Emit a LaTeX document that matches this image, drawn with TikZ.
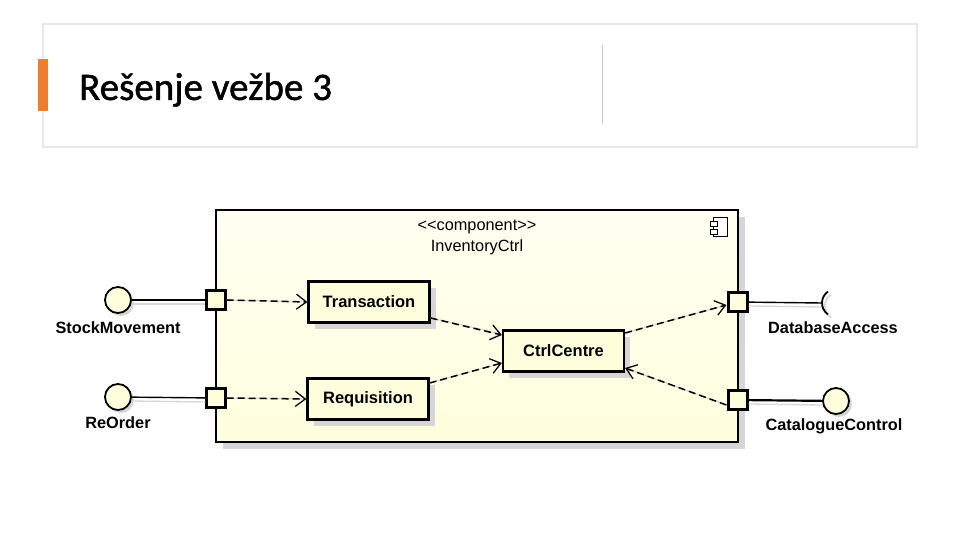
\documentclass[tikz,border=0pt]{standalone}
\usepackage{fontspec}
\setmainfont{Liberation Sans}
\newfontfamily\titlefont[FakeBold=1.2]{Carlito}
\usetikzlibrary{arrows.meta,shadows}
\definecolor{yfill}{RGB}{255,255,222}
\definecolor{yfilltop}{RGB}{255,255,242}
\definecolor{shadowgray}{RGB}{214,214,214}
\definecolor{lineshadow}{RGB}{215,215,215}
\definecolor{headgray}{RGB}{232,232,232}
\definecolor{sepgray}{RGB}{200,200,200}
\definecolor{accent}{RGB}{237,125,49}
\begin{document}
\begin{tikzpicture}[x=1pt,y=-1pt,
  boxshadow/.style={general shadow={fill=shadowgray, shadow xshift=6pt, shadow yshift=-6pt}},
  part/.style={draw=black, line width=2.3pt, fill=yfill, minimum width=121pt, minimum height=41pt,
               inner sep=0pt, font=\bfseries\fontsize{16.5}{19}\selectfont, boxshadow},
  port/.style={draw=black, line width=2.2pt, fill=yfill, minimum size=19pt, inner sep=0pt},
  lolli/.style={draw=black, line width=1.8pt, fill=yfill, circle, minimum size=26pt, inner sep=0pt,
                general shadow={fill=shadowgray, shadow xshift=3pt, shadow yshift=-3pt}},
  lbl/.style={font=\bfseries\fontsize{16.3}{19}\selectfont, inner sep=0pt},
  depend/.style={draw=black, line width=1.5pt, dash pattern=on 7pt off 4pt,
                 -{Straight Barb[length=10pt,width=15pt,line width=1.2pt]}},
  depshadow/.style={draw=lineshadow, line width=1.2pt, xshift=2pt, yshift=-5pt,
                 -{Straight Barb[length=10pt,width=15pt,line width=1.2pt]}},
  wire/.style={draw=black},
  wireshadow/.style={draw=lineshadow, line width=1.3pt}
]
\useasboundingbox (0,0) rectangle (960,540);
\fill[white] (0,0) rectangle (960,540);

% header
\draw[headgray, line width=1.2pt] (43,24) rectangle (917,147);
\fill[accent] (38,59) rectangle (48,111);
\draw[sepgray, line width=1pt] (602,45) -- (602,124);
\node[anchor=base west, inner sep=0pt, font=\titlefont\fontsize{39}{44}\selectfont] (title) at (79,100) {Rešenje vežbe 3};

% component
\node[draw=black, line width=2.4pt, minimum width=522pt, minimum height=232pt, inner sep=0pt,
      top color=yfilltop, bottom color=yfill, general shadow={fill=shadowgray, shadow xshift=7pt, shadow yshift=-7pt}]
      (ic) at (477,326) {};
\node[font=\fontsize{16.3}{19}\selectfont, inner sep=0pt] (stereo) at (477,227) {<\kern0pt<component>\kern0pt>};
\node[font=\fontsize{16.3}{19}\selectfont, inner sep=0pt] (icname) at (477,247) {InventoryCtrl};
\draw[line width=0.9pt, fill=white] (713,217) rectangle (727,236);
\draw[line width=0.9pt, fill=white] (710,221.5) rectangle (717,226.5);
\draw[line width=0.9pt, fill=white] (710,229) rectangle (717,234);

% parts
\node[part] (tr) at (369,302) {Transaction};
\node[part] (rq) at (368,399) {Requisition};
\node[part] (cc) at (563.5,351) {CtrlCentre};

% ports
\node[port] (pl1) at (216,300) {};
\node[port] (pl2) at (216,398) {};
\node[port] (pr1) at (738,302) {};
\node[port] (pr2) at (738,400) {};

% provided / required interfaces
\node[lolli] (sm) at (118,300) {};
\node[lolli] (ro) at (118,397) {};
\node[lolli] (cat) at (836,401) {};
\coordinate (db) at (836,303);
\node[lbl] (smL) at (118,327.5) {StockMovement};
\node[lbl] (roL) at (118,422.5) {ReOrder};
\node[lbl] (dbL) at (833,327.5) {DatabaseAccess};
\node[lbl] (catL) at (834,426.5) {CatalogueControl};

% wires
\draw[wireshadow] ([yshift=-4pt]sm.east) -- ([yshift=-4pt]pl1.west);
\draw[wireshadow] ([yshift=-4pt]ro.east) -- ([yshift=-4pt]pl2.west);
\draw[wireshadow] ([yshift=-4pt]pr1.east) -- ([yshift=-4pt,xshift=-14pt]db);
\draw[wireshadow] ([yshift=-4pt]pr2.east) -- ([yshift=-4pt]cat.west);
\draw[lineshadow, line width=1.8pt] ([xshift=3pt,yshift=-3pt]db) ++(125:14) arc[start angle=125, end angle=235, radius=14];
\draw[wire, line width=2.2pt] (sm) -- (pl1);
\draw[wire, line width=1.4pt] (ro) -- (pl2);
\draw[wire, line width=1.4pt] (pr1) -- ([xshift=-14pt]db);
\draw[wire, line width=2.2pt] (pr2) -- (cat);
\draw[black, line width=1.8pt] (db) ++(125:14) arc[start angle=125, end angle=235, radius=14];

% dependencies
\draw[depshadow] (pl1.east) -- (tr.west);
\draw[depshadow] (pl2.east) -- (rq.west);
\draw[depshadow] ([yshift=-16pt]tr.east) -- ([yshift=17pt]cc.west);
\draw[depshadow] ([yshift=16pt]rq.east) -- ([yshift=-12pt]cc.west);
\draw[depshadow] ([yshift=18pt]cc.east) -- ([xshift=-1pt,yshift=-3pt]pr1.west);
\draw[depshadow] ([xshift=-1pt,yshift=-5pt]pr2.west) -- ([yshift=-17pt]cc.east);

\draw[depend] (pl1.east) -- (tr.west);
\draw[depend] (pl2.east) -- (rq.west);
\draw[depend] ([yshift=-16pt]tr.east) -- ([yshift=16pt]cc.west);
\draw[depend] ([yshift=16pt]rq.east) -- ([yshift=-12pt]cc.west);
\draw[depend] ([yshift=18pt]cc.east) -- ([xshift=-1pt,yshift=-3pt]pr1.west);
\draw[depend] ([xshift=-1pt,yshift=-5pt]pr2.west) -- ([yshift=-17pt]cc.east);
\end{tikzpicture}
\end{document}
